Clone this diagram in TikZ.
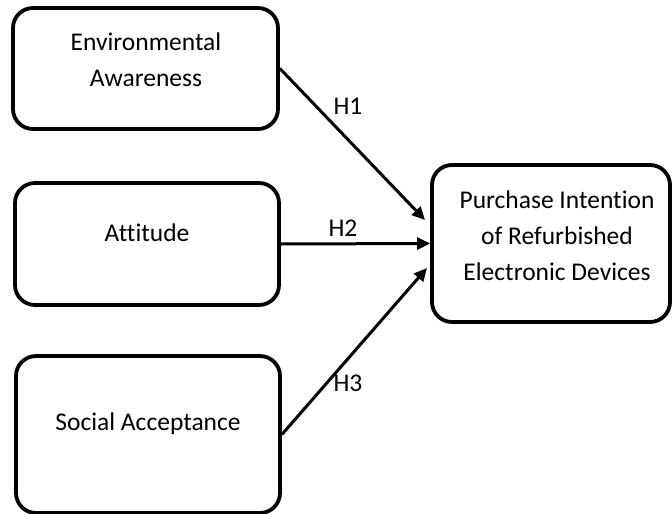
\documentclass[tikz,border=0pt]{standalone}
\usepackage{fontspec}
\setmainfont[Ligatures={NoCommon}]{Carlito}
\usetikzlibrary{arrows.meta}
\begin{document}
\begin{tikzpicture}[x=1pt,y=-1pt,
  box/.style={draw=black,line width=3.8pt,rounded corners=20pt,fill=white,inner sep=0pt},
  txt/.style={align=center,inner sep=0pt,font=\fontsize{25.5}{36}\selectfont},
  lbl/.style={inner sep=0pt,font=\fontsize{25.5}{30}\selectfont},
  arr/.style={line width=3pt,-{Triangle[length=13pt,width=12pt]}}]
\useasboundingbox (0,0) rectangle (672,514);
\node[box,minimum width=265pt,minimum height=121pt] (b1) at (145.5,68.5) {};
\node[box,minimum width=264pt,minimum height=122pt] (b2) at (147,244) {};
\node[box,minimum width=264pt,minimum height=157pt] (b3) at (148,434.5) {};
\node[box,minimum width=238pt,minimum height=157pt] (b4) at (551,243.5) {};
\node[txt] (t1) at (146,60) {Environmental\\Awareness};
\node[txt] (t2) at (147,233) {Attitude};
\node[txt] (t3) at (148,424) {Social Acceptance};
\node[txt] (t4) at (557,236) {Purchase Intention\\of Refurbished\\Electronic Devices};
\coordinate (e1) at (425,220);
\coordinate (e3) at (427,268);
\draw[arr] (b1.east) -- (e1);
\draw[arr] (b2.east) -- (b4.west);
\draw[arr] (b3.east) -- (e3);
\node[lbl] (h1) at (348,106) {H1};
\node[lbl] (h2) at (343,228) {H2};
\node[lbl] (h3) at (348,383) {H3};
\end{tikzpicture}
\end{document}
